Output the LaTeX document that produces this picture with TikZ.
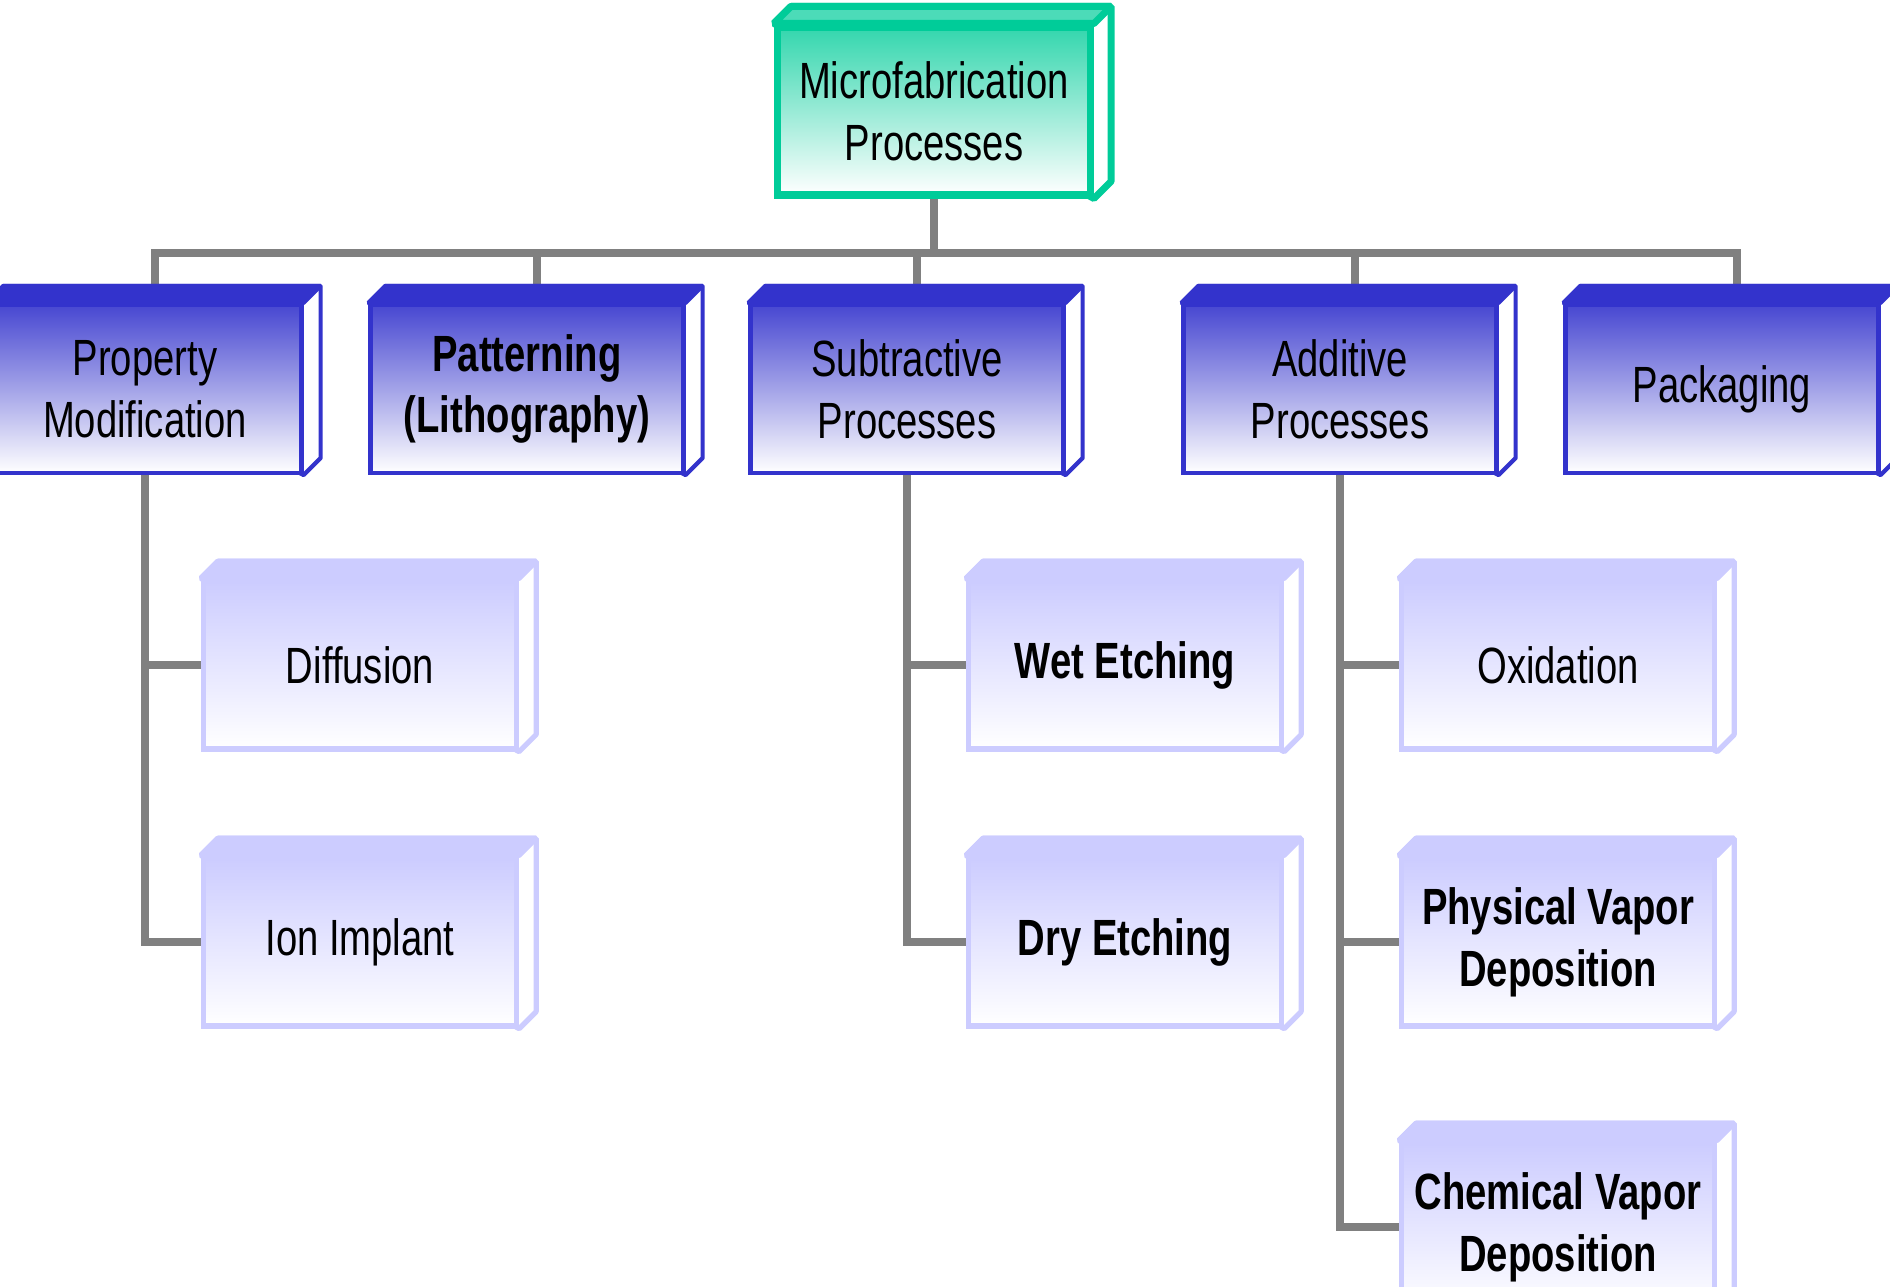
\documentclass[tikz,border=0pt]{standalone}
\usepackage{fontspec}
\setmainfont{Liberation Sans}[FakeStretch=0.75]
\usetikzlibrary{backgrounds}

\definecolor{tealbd}{HTML}{00CC99}
\definecolor{bluebd}{HTML}{3333CC}
\definecolor{lilacbd}{HTML}{CCCCFF}

\tikzset{
  procbox/.style={rectangle, minimum width=3.13cm, minimum height=1.68cm,
    inner sep=0pt, align=center, font=\fontsize{14.5}{17.6}\selectfont},
  boldtext/.style={font=\fontsize{14.5}{17.6}\selectfont\bfseries},
  rootbox/.style={procbox, draw=tealbd, line width=2pt,
    top color=tealbd!80, bottom color=white},
  mainbox/.style={procbox, draw=bluebd, line width=1.2pt,
    top color=bluebd!90, middle color=bluebd!35, bottom color=white},
  subbox/.style={procbox, draw=lilacbd, line width=1.5pt,
    top color=lilacbd, bottom color=white},
  link/.style={draw=gray, line width=2.1pt},
}

% the depth behind a box, towards the upper right
\newcommand{\boxdepth}[3]{%
  \draw[#2, fill=white, line join=bevel] (#1.north west)
    -- ([xshift=1.7mm,yshift=1.7mm]#1.north west)
    -- ([xshift=1.7mm,yshift=1.7mm]#1.north east) -- ([xshift=1.7mm,yshift=1.7mm]#1.south east)
    -- (#1.south east) -- cycle;
  \draw[#2, fill=#3, line join=bevel] (#1.north west)
    -- ([xshift=1.7mm,yshift=1.7mm]#1.north west)
    -- ([xshift=1.7mm,yshift=1.7mm]#1.north east) -- (#1.north east) -- cycle;
}

\begin{document}
\begin{tikzpicture}
  \useasboundingbox (0,0) rectangle (18.9,12.87);

  \node[rootbox] (root) at (9.34,11.76) {Microfabrication\\Processes};

  \node[mainbox] (propmod) at (1.45,8.98) {Property\\Modification};
  \node[mainbox,boldtext] (pattern) at (5.27,8.98) {Patterning\\(Lithography)};
  \node[mainbox] (subtract) at (9.07,8.98) {Subtractive\\Processes};
  \node[mainbox] (additive) at (13.40,8.98) {Additive\\Processes};
  \node[mainbox] (packaging) at (17.22,8.98) {Packaging};

  \node[subbox] (diffusion) at (3.60,6.22) {Diffusion};
  \node[subbox] (ionimpl) at (3.60,3.45) {Ion Implant};
  \node[subbox,boldtext] (wetetch) at (11.25,6.22) {Wet Etching};
  \node[subbox,boldtext] (dryetch) at (11.25,3.45) {Dry Etching};
  \node[subbox] (oxid) at (15.58,6.22) {Oxidation};
  \node[subbox,boldtext] (pvd) at (15.58,3.45) {Physical Vapor\\Deposition};
  \node[subbox,boldtext] (cvd) at (15.58,0.60) {Chemical Vapor\\Deposition};

  \begin{scope}[on background layer]
    % connectors
    \coordinate (bus) at (9.34,10.34);
    \draw[link] (root.south) -- (bus);
    \draw[link] (bus) -| ([xshift=1mm]propmod.north);
    \draw[link] (bus) -| ([xshift=1mm]pattern.north);
    \draw[link] (bus) -| ([xshift=1mm]subtract.north);
    \draw[link] (bus) -| ([xshift=1.5mm]additive.north);
    \draw[link] (bus) -| ([xshift=1.5mm]packaging.north);
    \draw[link] (propmod.south) |- (diffusion.west);
    \draw[link] (propmod.south) |- (ionimpl.west);
    \draw[link] (subtract.south) |- (wetetch.west);
    \draw[link] (subtract.south) |- (dryetch.west);
    \draw[link] (additive.south) |- (oxid.west);
    \draw[link] (additive.south) |- (pvd.west);
    \draw[link] (additive.south) |- (cvd.west);
    % depth of the boxes
    \boxdepth{root}{draw=tealbd, line width=2pt}{tealbd!70}
    \foreach \n in {propmod,pattern,subtract,additive,packaging}{
      \boxdepth{\n}{draw=bluebd, line width=1.2pt}{bluebd}
    }
    \foreach \n in {diffusion,ionimpl,wetetch,dryetch,oxid,pvd,cvd}{
      \boxdepth{\n}{draw=lilacbd, line width=1.5pt}{lilacbd}
    }
  \end{scope}
\end{tikzpicture}
\end{document}
